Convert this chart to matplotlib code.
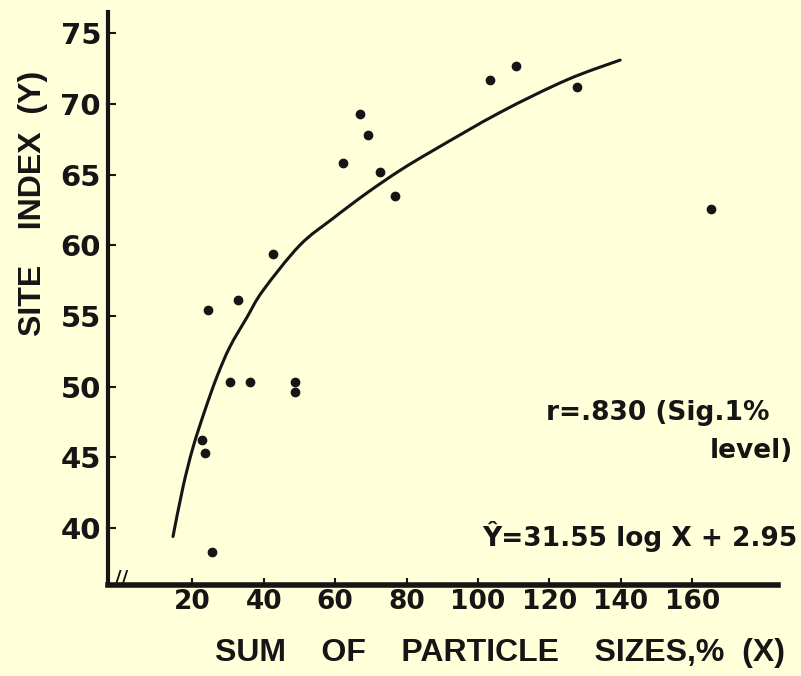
import numpy as np
import matplotlib
matplotlib.use("Agg")
import matplotlib.pyplot as plt
from matplotlib.path import Path
from matplotlib.patches import PathPatch

# observed plots (sum of particle sizes %, site index)
sum_sizes = [22.6, 23.5, 24.4, 25.5, 30.5, 32.8, 36.1, 42.6, 48.7, 48.7,
             62.2, 67.0, 69.2, 72.5, 76.8, 103.4, 110.6, 127.7, 165.3]
site_index = [46.2, 45.3, 55.4, 38.3, 50.3, 56.1, 50.3, 59.4, 50.3, 49.6,
              65.8, 69.3, 67.8, 65.2, 63.5, 71.7, 72.7, 71.2, 62.6]

# fitted curve as drawn on the original
curve_x = [14.6, 17.4, 20.2, 23.5, 26.9, 30.5, 35.3, 39.8, 50.1, 59.4,
           68.9, 78.2, 87.4, 106.2, 124.9, 139.8]
curve_y = [39.4, 42.9, 45.7, 48.3, 50.7, 52.8, 54.9, 56.8, 60.0, 61.9,
           63.7, 65.3, 66.7, 69.4, 71.7, 73.1]

x_ticks = [20, 40, 60, 80, 100, 120, 140, 160]
y_ticks = [40, 45, 50, 55, 60, 65, 70, 75]

bg = "#ffffd9"
ink = "#151515"

plt.rcParams['font.family'] = ['DejaVu Sans']
plt.rcParams['font.weight'] = 'bold'


def smooth_path(ax, xs, ys):
    # bezier path through the read points (drawn in display space)
    pts = ax.transData.transform(np.column_stack([xs, ys]))
    verts = [pts[0]]
    codes = [Path.MOVETO]
    n = len(pts)
    for i in range(n - 1):
        p0 = pts[max(i - 1, 0)]
        p1 = pts[i]
        p2 = pts[i + 1]
        p3 = pts[min(i + 2, n - 1)]
        c1 = p1 + (p2 - p0) / 6.0
        c2 = p2 - (p3 - p1) / 6.0
        verts += [c1, c2, p2]
        codes += [Path.CURVE4] * 3
    return Path(verts, codes)


W, H = 801, 676
fig = plt.figure(figsize=(W / 100, H / 100), dpi=100, facecolor=bg)
ax = fig.add_axes([108 / W, 1 - 585 / H, (778 - 108) / W, (585 - 12) / H])
ax.set_facecolor(bg)

ax.set_xlim(-3.6, 184)
ax.set_ylim(35.97, 76.5)

ax.scatter(sum_sizes, site_index, s=36, color=ink, zorder=3)
curve = PathPatch(smooth_path(ax, curve_x, curve_y), transform=None,
                  facecolor='none', edgecolor=ink, lw=2.2, capstyle='round')
ax.add_artist(curve)

for s in ['top', 'right']:
    ax.spines[s].set_visible(False)
ax.spines['left'].set_linewidth(3.0)
ax.spines['bottom'].set_linewidth(4.0)
ax.spines['left'].set_color(ink)
ax.spines['bottom'].set_color(ink)

ax.set_xticks(x_ticks)
ax.set_xticklabels([str(v) for v in x_ticks])
ax.set_yticks(y_ticks)
ax.set_yticklabels([str(v) for v in y_ticks])
ax.tick_params(axis='x', direction='in', length=5, width=1.5, pad=3,
               labelsize=19, colors=ink)
ax.tick_params(axis='y', direction='in', length=6, width=1.5, pad=5,
               labelsize=21, colors=ink)

# axis titles
lab = dict(family=['Liberation Sans', 'DejaVu Sans'], weight='bold', color=ink)
fig.text(33 / W, 1 - 203 / H, "SITE    INDEX  (Y)", rotation=90,
         ha='center', va='center', fontsize=23, **lab)
fig.text(500 / W, 1 - 653 / H, "SUM    OF    PARTICLE    SIZES,%  (X)",
         ha='center', va='center', fontsize=23, **lab)

# axis break mark at the corner
fig.text(122 / W, 1 - 577 / H, "//", ha='center', va='center',
         fontsize=13, color=ink)

# statistics notes
fig.text(770 / W, 1 - 413 / H, "r=.830 (Sig.1%", ha='right', va='center',
         fontsize=19, color=ink)
fig.text(793 / W, 1 - 451 / H, "level)", ha='right', va='center',
         fontsize=19, color=ink)
fig.text(797 / W, 1 - 537 / H, "Ŷ=31.55 log X + 2.95", ha='right',
         va='center', fontsize=19, color=ink)

fig.savefig("out.png", dpi=100, facecolor=bg)
